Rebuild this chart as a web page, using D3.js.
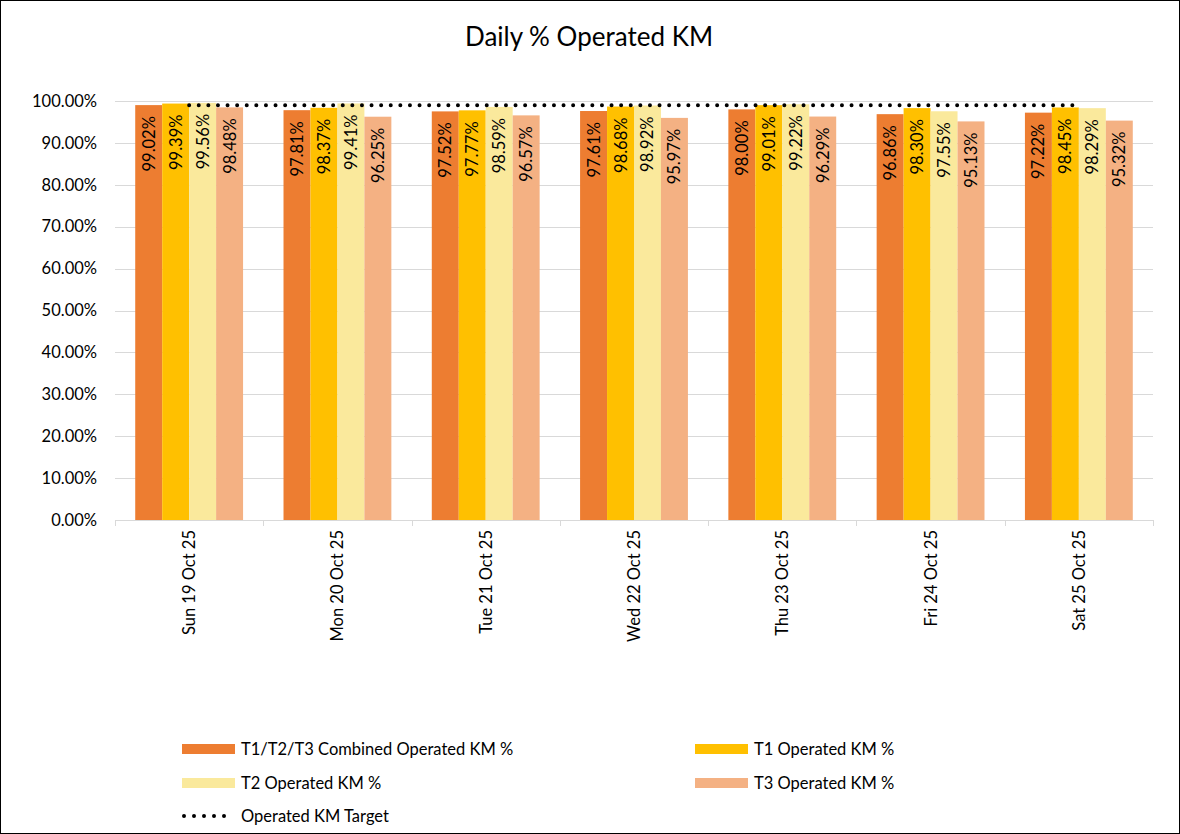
<!DOCTYPE html>
<html><head><meta charset="utf-8">
<script src="https://cdn.jsdelivr.net/npm/d3@7"></script>
<style>
html,body{margin:0;padding:0;background:#fff;}
svg{display:block;font-family:Lato,"Open Sans",sans-serif;}
</style></head>
<body>
<svg id="c" width="1180" height="834"></svg>
<script>
const categories = ["Sun 19 Oct 25","Mon 20 Oct 25","Tue 21 Oct 25","Wed 22 Oct 25","Thu 23 Oct 25","Fri 24 Oct 25","Sat 25 Oct 25"];
const seriesNames = ["T1/T2/T3 Combined Operated KM %","T1 Operated KM %","T2 Operated KM %","T3 Operated KM %"];
const combined = [99.02,97.81,97.52,97.61,98.00,96.86,97.22];
const t1 = [99.39,98.37,97.77,98.68,99.01,98.30,98.45];
const t2 = [99.56,99.41,98.59,98.92,99.22,97.55,98.29];
const t3 = [98.48,96.25,96.57,95.97,96.29,95.13,95.32];
const target = [99,99,99,99,99,99,99];
const targetName = "Operated KM Target";
const yTicks = [0,10,20,30,40,50,60,70,80,90,100];
const colors = ["#ED7D31","#FFC000","#FAE99C","#F4B183"];

const seriesVals = [combined,t1,t2,t3];
const FS = 16.5;
const svg = d3.select("#c");
svg.append("rect").attr("x",0.5).attr("y",0.5).attr("width",1179).attr("height",833)
  .attr("fill","#fff").attr("stroke","#000").attr("stroke-width",1);

const L=115,R=1153,T=101,B=520;
const x = d3.scaleBand().domain(categories).range([L,R]).paddingInner(0).paddingOuter(0);
const xs = d3.scaleBand().domain(d3.range(4)).range([0,x.bandwidth()]).paddingInner(0).paddingOuter(0.75);
const y = d3.scaleLinear().domain([0,100]).range([B,T]);

svg.append("text").attr("x",589).attr("y",46).attr("text-anchor","middle")
  .attr("font-size",26).attr("fill","#000").text("Daily % Operated KM");

// gridlines
svg.append("g").selectAll("line").data(yTicks.filter(d=>d>0)).join("line")
  .attr("x1",L).attr("x2",R).attr("y1",d=>Math.round(y(d))+0.5).attr("y2",d=>Math.round(y(d))+0.5)
  .attr("stroke","#d9d9d9").attr("stroke-width",1);

// y labels
svg.append("g").selectAll("text").data(yTicks).join("text")
  .attr("x",97).attr("y",d=>y(d)).attr("dy","0.35em").attr("text-anchor","end")
  .attr("font-size",FS).attr("fill","#000").text(d=>d.toFixed(2)+"%");

// bars
const g = svg.append("g");
seriesVals.forEach((vals,si)=>{
  g.append("g").selectAll("rect").data(vals).join("rect")
    .attr("x",(d,i)=>x(categories[i])+xs(si))
    .attr("width",xs.bandwidth())
    .attr("y",d=>y(d)).attr("height",d=>B-y(d))
    .attr("fill",colors[si]);
});
// data labels
seriesVals.forEach((vals,si)=>{
  g.append("g").selectAll("text").data(vals).join("text")
    .attr("transform",(d,i)=>`translate(${x(categories[i])+xs(si)+xs.bandwidth()/2+6},${y(d)+11}) rotate(-90)`)
    .attr("text-anchor","end").attr("font-size",FS).attr("fill","#000")
    .text(d=>d.toFixed(2)+"%");
});

// x axis
svg.append("line").attr("x1",L).attr("x2",R).attr("y1",B+0.5).attr("y2",B+0.5).attr("stroke","#d9d9d9");
svg.append("g").selectAll("line").data(d3.range(categories.length+1)).join("line")
  .attr("x1",i=>Math.round(L+i*x.step())+0.5).attr("x2",i=>Math.round(L+i*x.step())+0.5)
  .attr("y1",B).attr("y2",B+6).attr("stroke","#d9d9d9");
svg.append("g").selectAll("text").data(categories).join("text")
  .attr("transform",d=>`translate(${x(d)+x.bandwidth()/2+6},530) rotate(-90)`)
  .attr("text-anchor","end").attr("font-size",FS).attr("fill","#000").text(d=>d);

// target line
const line = d3.line().x((d,i)=>x(categories[i])+x.bandwidth()/2).y(d=>y(d));
svg.append("path").datum(target).attr("d",line).attr("fill","none")
  .attr("stroke","#000").attr("stroke-width",4).attr("stroke-linecap","round")
  .attr("stroke-dasharray","0 9.6");

// legend
const leg = [
  {n:seriesNames[0],c:colors[0],x:182,y:749},
  {n:seriesNames[1],c:colors[1],x:695,y:749},
  {n:seriesNames[2],c:colors[2],x:182,y:783},
  {n:seriesNames[3],c:colors[3],x:695,y:783}
];
const lg = svg.append("g");
leg.forEach(o=>{
  lg.append("rect").attr("x",o.x).attr("y",o.y-5).attr("width",53).attr("height",10).attr("fill",o.c);
  lg.append("text").attr("x",o.x+59).attr("y",o.y).attr("dy","0.35em").attr("font-size",FS).attr("fill","#000").text(o.n);
});
lg.append("line").attr("x1",184).attr("x2",234).attr("y1",816).attr("y2",816)
  .attr("stroke","#000").attr("stroke-width",4).attr("stroke-linecap","round").attr("stroke-dasharray","0 10");
lg.append("text").attr("x",241).attr("y",816).attr("dy","0.35em").attr("font-size",FS).attr("fill","#000").text(targetName);
</script>
</body></html>
